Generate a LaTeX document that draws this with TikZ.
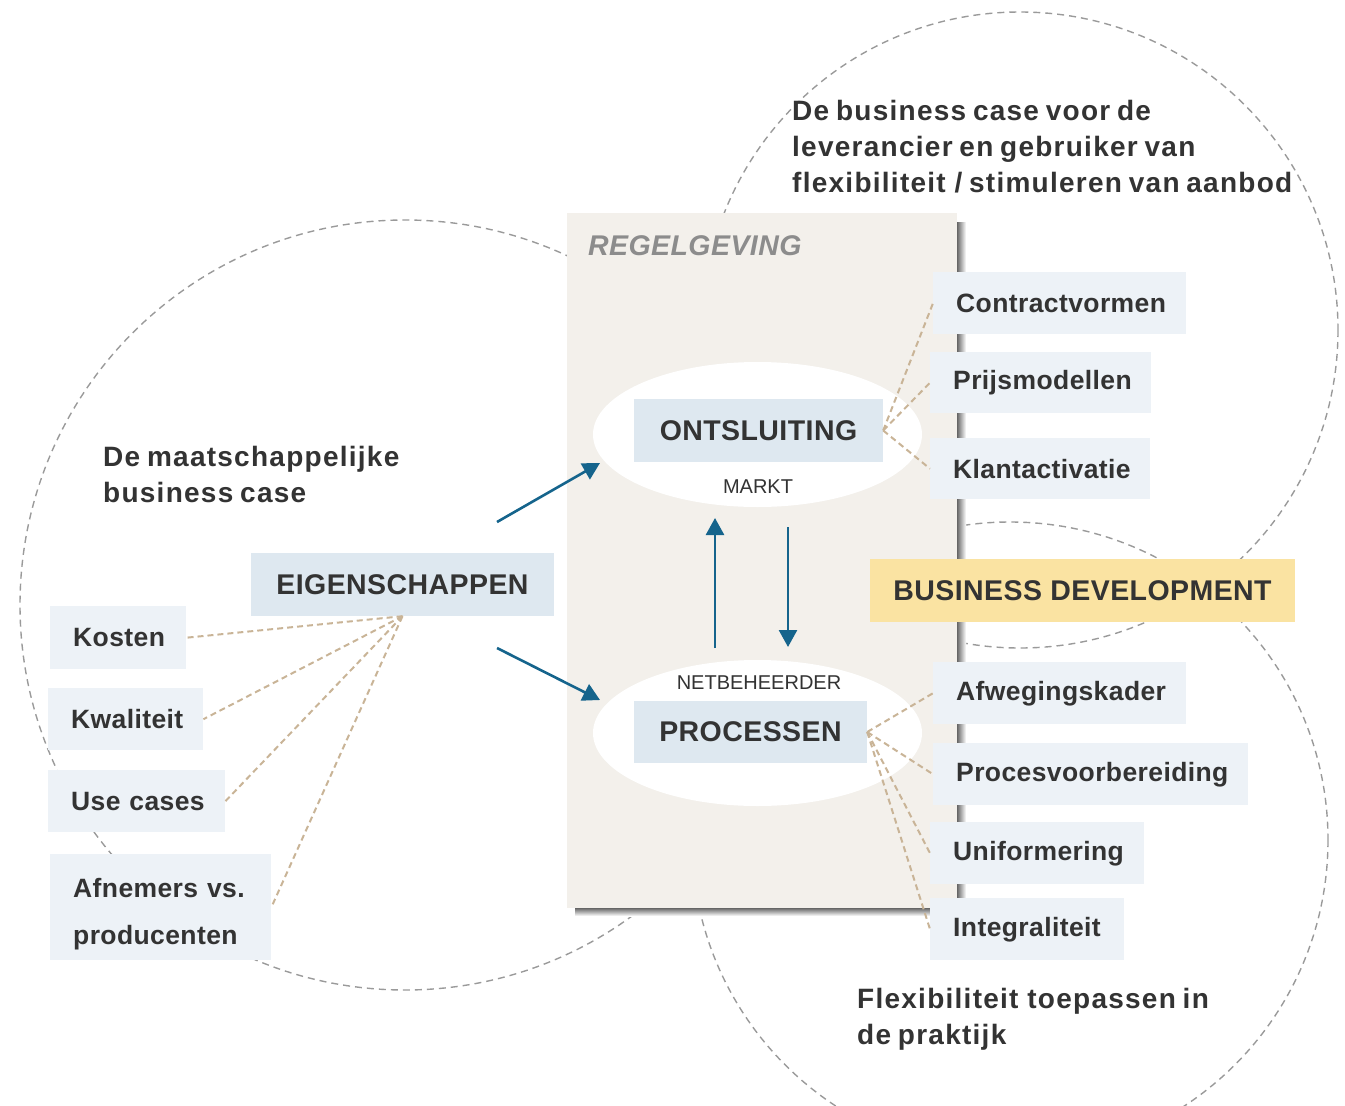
\documentclass[tikz,border=0pt]{standalone}
\usepackage{fontspec}
\setmainfont{Liberation Sans}
\newfontfamily\notefont{Liberation Sans}[LetterSpace=4.5,WordSpace=0.75]
\newfontfamily\itemfont{Liberation Sans}[LetterSpace=1.5]
\usetikzlibrary{arrows.meta,shapes.geometric}
\definecolor{txt}{HTML}{333333}
\definecolor{circgray}{HTML}{9A9A9A}
\definecolor{tanc}{HTML}{C9B497}
\definecolor{flowblue}{HTML}{15648C}
\definecolor{itemfill}{HTML}{EDF2F7}
\definecolor{headfill}{HTML}{DEE8F0}
\definecolor{bdfill}{HTML}{FAE3A2}
\definecolor{rectfill}{HTML}{F3F0EB}
\definecolor{regtxt}{HTML}{8C8C8C}
\begin{document}
\begin{tikzpicture}[x=1pt,y=-1pt,
  circ/.style={draw=circgray, line width=1.4pt, dash pattern=on 7pt off 5pt},
  conn/.style={draw=tanc, line width=2pt, dash pattern=on 6pt off 4pt},
  flow/.style={draw=flowblue, line width=2.6pt, -{Triangle[length=17pt,width=18pt]}},
  item/.style={fill=itemfill, anchor=north west, inner xsep=23pt, inner ysep=0pt, align=left, text=txt, font=\itemfont\fontsize{26.5}{47}\selectfont\bfseries},
  headbox/.style={fill=headfill, inner sep=0pt, text=txt, font=\itemfont\fontsize{28.5}{34}\selectfont\bfseries},
  note/.style={anchor=north west, inner sep=0pt, align=left, text=txt, font=\notefont\fontsize{28}{36}\selectfont\bfseries},
  small/.style={inner sep=0pt, text=txt, font=\fontsize{20}{24}\selectfont},
  oval/.style={ellipse, fill=white, inner sep=0pt}
]
\useasboundingbox (0,0) rectangle (1345,1106);
% dashed circles
\draw[circ] (405,605) circle[radius=385];
\draw[circ] (1020,330) circle[radius=318];
\draw[circ] (1010,840) circle[radius=318];
% shadow of the rectangle
\shade[left color=black!60, right color=white] (957,222) rectangle (966,914);
\shade[top color=black!60, bottom color=white] (575,908) rectangle (957,916);
% regulation rectangle
\node[fill=rectfill, minimum width=390pt, minimum height=695pt, anchor=north west, inner sep=0pt] (regel) at (567,213) {};
\node[anchor=west, inner sep=0pt, text=regtxt, font=\itemfont\fontsize{28.5}{32}\selectfont\bfseries\itshape] (regtitle) at (588,246) {REGELGEVING};
% ovals
\node[oval, minimum width=329pt, minimum height=145pt] (ovM) at (757.5,434.5) {};
\node[oval, minimum width=329pt, minimum height=146pt] (ovN) at (757.5,733) {};
% head boxes
\node[headbox, minimum width=303pt, minimum height=63pt] (eig) at (402.5,584.5) {EIGENSCHAPPEN};
\node[headbox, minimum width=249pt, minimum height=63pt] (ont) at (758.5,430.5) {ONTSLUITING};
\node[headbox, minimum width=233pt, minimum height=62pt] (pro) at (750.5,732) {PROCESSEN};
\node[headbox, fill=bdfill, minimum width=425pt, minimum height=63pt] (bd) at (1082.5,590.5) {BUSINESS DEVELOPMENT};
\node[small] (markt) at (758,487) {MARKT};
\node[small] (netb) at (759,683) {NETBEHEERDER};
% item boxes left
\node[item, text width=90pt, minimum height=63pt] (kosten) at (50,606) {Kosten};
\node[item, text width=109pt, minimum height=62pt] (kwal) at (48,688) {Kwaliteit};
\node[item, text width=131pt, minimum height=62pt] (use) at (48,770) {Use~cases};
\node[item, text width=175pt, minimum height=106pt, text height=33pt] (afn) at (50,854) {Afnemers~vs.\\producenten};
% item boxes right top
\node[item, text width=207pt, minimum height=62pt] (contr) at (933,272) {Contractvormen};
\node[item, text width=175pt, minimum height=61pt] (prijs) at (930,352) {Prijsmodellen};
\node[item, text width=174pt, minimum height=61pt] (klant) at (930,438) {Klantactivatie};
% item boxes right bottom
\node[item, text width=207pt, minimum height=62pt] (afw) at (933,662) {Afwegingskader};
\node[item, text width=269pt, minimum height=62pt] (procv) at (933,743) {Procesvoorbereiding};
\node[item, text width=168pt, minimum height=62pt] (unif) at (930,822) {Uniformering};
\node[item, text width=148pt, minimum height=62pt] (integ) at (930,898) {Integraliteit};
% connectors
\draw[conn] (eig.south) -- (kosten.east);
\draw[conn] (eig.south) -- (kwal.east);
\draw[conn] (eig.south) -- (use.east);
\draw[conn] (eig.south) -- (afn.east);
\draw[conn] (ont.east) -- (contr.west);
\draw[conn] (ont.east) -- (prijs.west);
\draw[conn] (ont.east) -- (klant.west);
\draw[conn] (pro.east) -- (afw.west);
\draw[conn] (pro.east) -- (procv.west);
\draw[conn] (pro.east) -- (unif.west);
\draw[conn] (pro.east) -- (integ.west);
% flow arrows
\coordinate (a1s) at (497,522); \coordinate (a1e) at (600,463);
\coordinate (a2s) at (497,648); \coordinate (a2e) at (600,700);
\coordinate (ups) at (715,648); \coordinate (upe) at (715,518);
\coordinate (dns) at (788,527); \coordinate (dne) at (788,647);
\draw[flow] (a1s) -- (a1e);
\draw[flow] (a2s) -- (a2e);
\draw[flow] (ups) -- (upe);
\draw[flow] (dns) -- (dne);
% notes
\node[note] (n1) at (792,100) {De business case voor de\\leverancier en gebruiker van\\flexibiliteit\hspace{2pt} / stimuleren van aanbod};
\node[note] (n2) at (103,446) {De maatschappelijke\\business case};
\node[note] (n3) at (857,988) {Flexibiliteit\hspace{2pt} toepassen in\\de praktijk};
\end{tikzpicture}
\end{document}
